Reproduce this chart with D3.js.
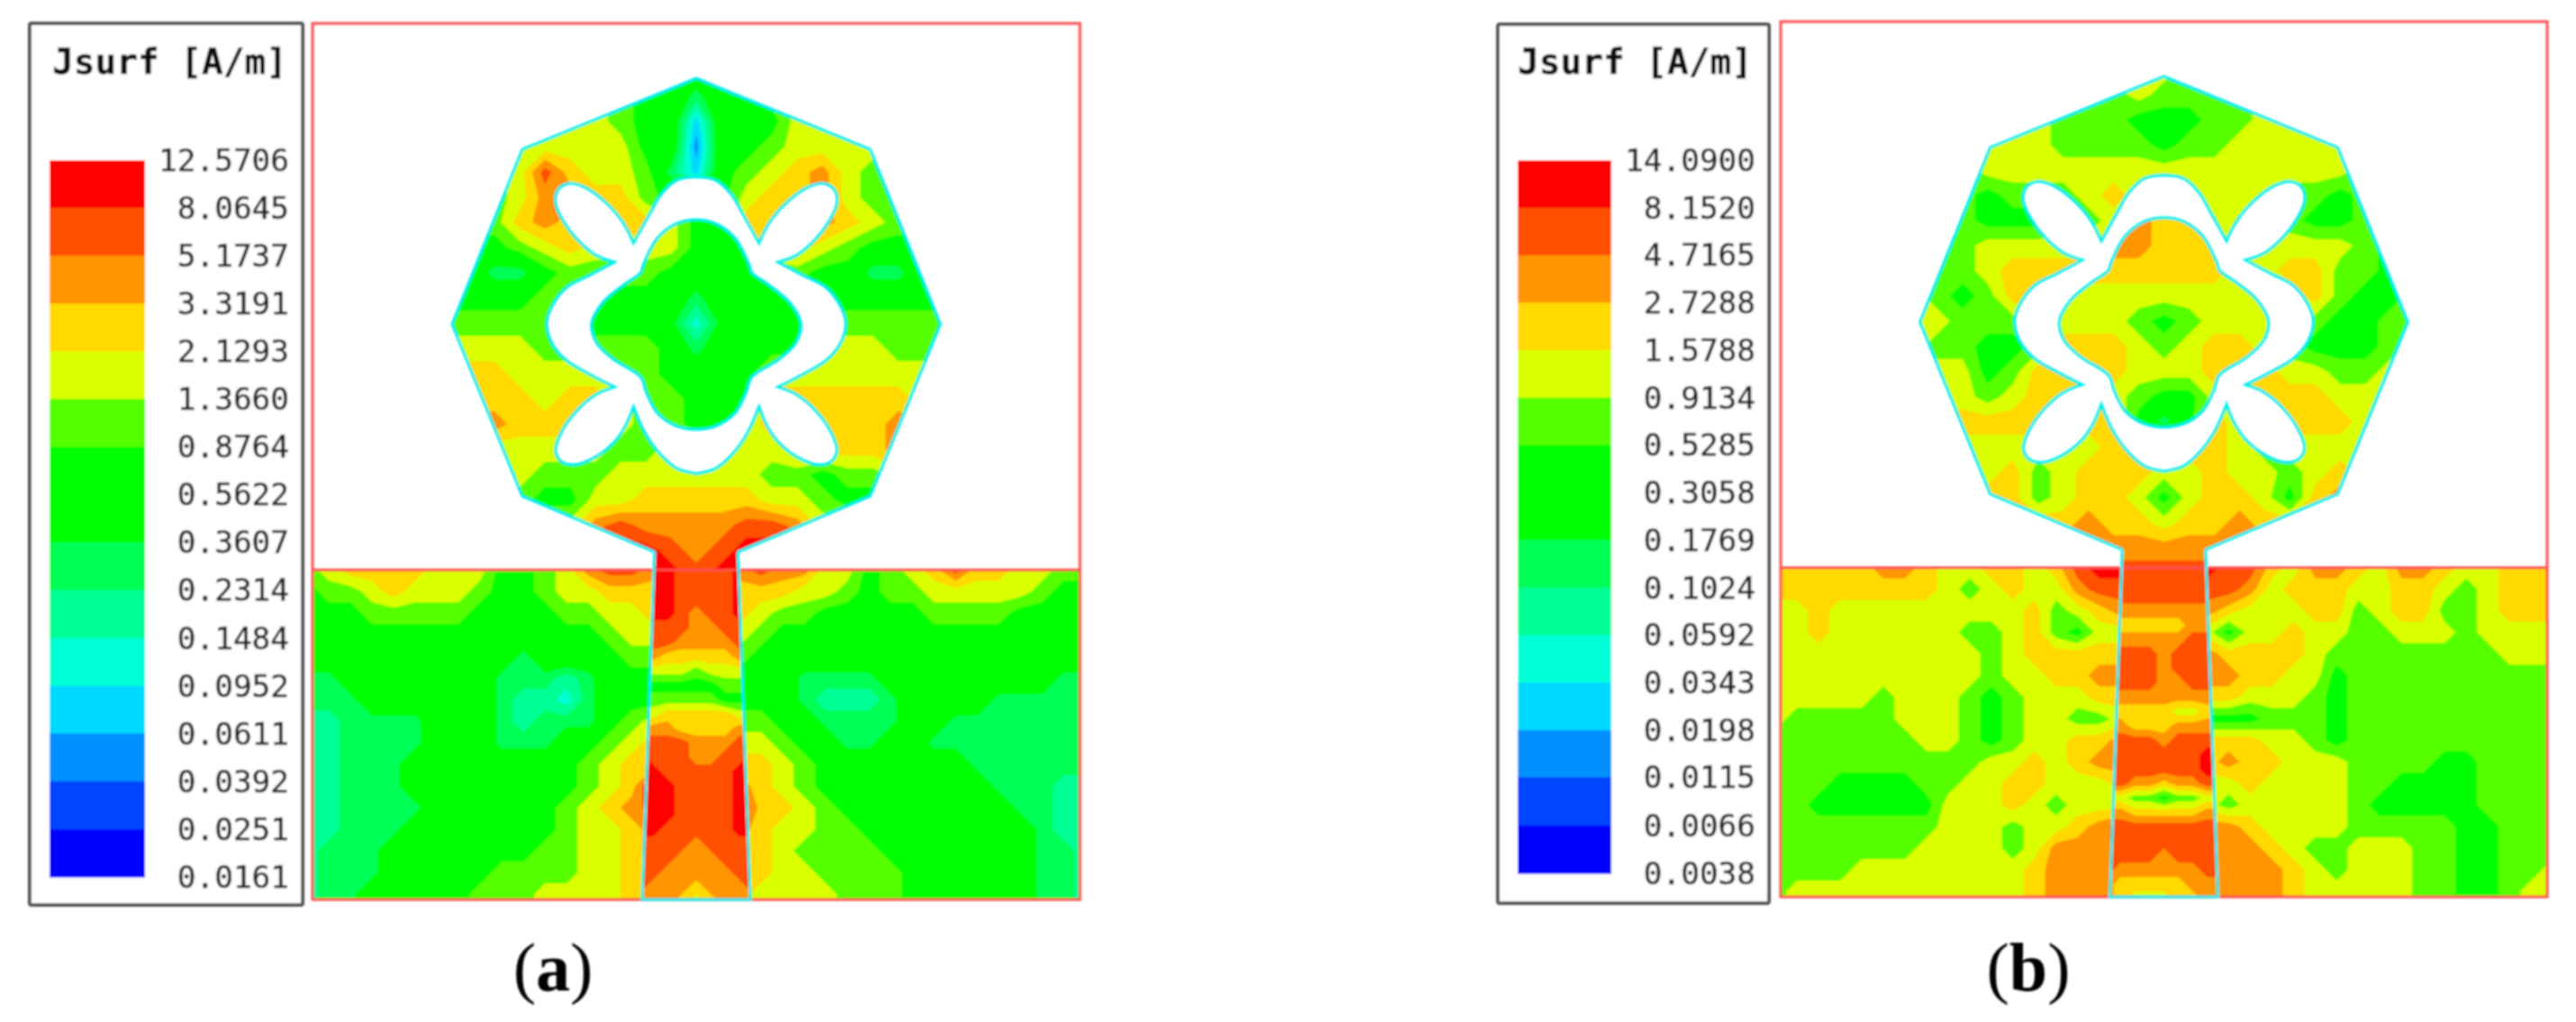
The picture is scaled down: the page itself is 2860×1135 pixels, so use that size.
<!DOCTYPE html>
<html><head><meta charset="utf-8">
<script src="https://cdnjs.cloudflare.com/ajax/libs/d3/7.8.5/d3.min.js"></script>
<style>html,body{margin:0;padding:0;background:#fff}svg{display:block}</style>
</head><body>
<svg id="chart" width="2860" height="1135"></svg>
<script>
// Colour bands, low to high (hex digit used in the field tables = band index)
const bandColors = ['#0000ff','#0045ff','#0090ff','#00d9ff','#00ffd5','#00ff95','#00ff55','#00ff00','#00ff00','#55ff00','#d9ff00','#ffd900','#ff9500','#ff5000','#ff0000'];
const legendTitle = 'Jsurf [A/m]';
const legendLabelsA = ['12.5706','8.0645','5.1737','3.3191','2.1293','1.3660','0.8764','0.5622','0.3607','0.2314','0.1484','0.0952','0.0611','0.0392','0.0251','0.0161'];
const legendLabelsB = ['14.0900','8.1520','4.7165','2.7288','1.5788','0.9134','0.5285','0.3058','0.1769','0.1024','0.0592','0.0343','0.0198','0.0115','0.0066','0.0038'];

// Surface current band: radiating patch
const patchRowsA = [
"aaaaaaa9888889aaaaaaa",
"aaaaaaa9886889aaaaaaa",
"aaaaaaa9883888aaaaaaa",
"aaaaaaaa882889aaaa999",
"999adbaa96389abca9999",
"999accbb9888abbca9999",
"999bcbbbba88bbbcba999",
"8889abaaaa888bba98888",
"886689999888889886688",
"888899888868888888888",
"999999888747888999999",
"aaaa99999868888aaa999",
"bbbaaaa998888aaaaaaaa",
"bbbbabba99888bbbbbbaa",
"cccbbbaa9988abbbbbccc",
"bbaaaaa99aaaaabbbbccc",
"aaaa999aaaaaa99899aaa",
"999988aabbbbbaa988888",
"aaaaaacdccccddcaaaaaa",
"eeeeeeeeedcdeeeeeeeee",
"eeeeeeeeeedeeeeeeeeee"];
const patchRowsB = [
"999999999aa999aaaaaaa",
"999999999a9999aaaaaaa",
"aaaaaa99988899aaaaaaa",
"aaaaaa9999899aaaaa999",
"999aaaaaaaaaaaaaaa999",
"8898999abaaaaaa998999",
"99988899acbbaaa988999",
"999aaaaaccbbbaaaaa988",
"999abbbbbbbbbaabb9988",
"a989bbbaaaaaaaaab9889",
"aa999aaaa989aaaa98899",
"a99889bbba9abba988899",
"aaa89bbbbaaabbbaa99aa",
"aaa9abbba988abbbbaaaa",
"bbbbbbbbb868baabbbaaa",
"aaaaaaaabbbbba9aaaaaa",
"aaaab9abbbaabaa9abaaa",
"bbbbb9abba8abba8bcccc",
"bbbbbbbcbbabbcbbbbbbb",
"ccccccccccccccccccccc",
"ddddddddddddddddddddd"];

// Ground plane
const groundRowsA = [
"9abbbbaaa889acddc"+"ccc"+"cdccaa89abdbbaa99",
"899abaaa9889aabbb"+"bbb"+"bbbaa9899aaaaa988",
"88899999888899aab"+"bbb"+"ba998888899998888",
"888888888888889aa"+"aaa"+"a9888888888888888",
"88888888886888899"+"999"+"98888888888888888",
"66888888866656888"+"888"+"88866668888888866",
"66688888865546888"+"888"+"88865556888866666",
"5566668886566689a"+"aaa"+"99886666886666666",
"556666888666889ab"+"aaa"+"aa988668866666666",
"55666888888889abb"+"bbb"+"bba98888888666666",
"55666888888889abe"+"ccc"+"cba98888888866655",
"5566668888889abcd"+"eee"+"ebba9888888886655",
"5566688888889aabc"+"ccc"+"cbaa9988888888655",
"5666888888899aabc"+"bbb"+"bba99998888888665",
"5666888889999aabc"+"bbb"+"bbaa9999888888665",
"56688888999aaaabc"+"bbb"+"baaaa999888888665",
"56688888999aaaabc"+"bbb"+"baaaa999888888665"];
const groundRowsB = [
"bbbbbccbaabbabdee"+"eee"+"eddbaccbaccbaabbb",
"bbbbbbbba9abaacdd"+"ddd"+"ddcabbbaabba9abbb",
"aabaaaaaaaaab9abc"+"ccc"+"cbaaabb9abb99abbb",
"aabaaaaaa99ab98aa"+"aaa"+"a8aabaa99aaa9aaaa",
"aaaaaaaaaa9abbbbb"+"ccc"+"cbbbba99999999aaa",
"aaaaaaaaaa9aabbcc"+"ccc"+"ccbbaa89999999999",
"aaaaa9aaa989aaabb"+"bbb"+"bbaaa989999999999",
"a99999aaa989aa99a"+"888"+"88899989999999999",
"9999999aa989aabbc"+"bbb"+"bbbaa989999999999",
"9999999999aababcc"+"bbb"+"bcbbaaa9999889999",
"999888899aabbaaab"+"aaa"+"aabaaaa9988889999",
"99888888aaaba9aaa"+"aaa"+"a9aaaaa9888889999",
"99999999aaa9aabcd"+"ccc"+"ccbaaaa9999988999",
"9999999aaaa9acccd"+"ccc"+"cccba99aaa9988999",
"9999aaaaaaaabcccd"+"ccc"+"ccccba9aaa998899a",
"9aaaaaaaaaaabcccd"+"ccc"+"ccccbaaaaa99889aa",
"9aaaaaaaaaaabcccd"+"ccc"+"ccccbaaaaa99889aa"];

// Feed line
const feedRowsA = [
"eeeddddee","eeeddddee","eeeddddee","eeedcddee","ddddccddd","dddccccdd","ccbbbbbcc","aaaa9aaaa",
"888888999","999999888","aabbbbbaa","cccbbbbcc","ddddcccdd","edddccdde","eedddddee","eeeddddee",
"eeeddddee","eeeddddee","eedddddee","ddddcdddd","dddcccddd","ddcccccdd","dcccbcccd","cccbabccc"];
const feedRowsB = [
"ddddddddd","ddddddddd","ddddddddd","ccccccccc","bbbbbbccc","ccccccddd","ddddcdddd","ddddcdddd",
"ddddccddd","ccccccccc","bbbbbaabb","ccbbbcccc","ddddcdddd","dddddddee","eddddddee","ddccbccdd",
"aa99899aa","ccbbbbbcc","ddddddddd","ddddddddd","ddddcdddd","dccccccdd","cbbbbbccc","cbaaabbcc"];

// Antenna geometry (model units)
const patchOutline = [[0,61],[193,140],[271,334],[193,525],[46,587],[47,607],[-47,607],[-46,587],[-193,525],[-271,334],[-193,140]];
const feedOutline = [[46,587],[47,607],[60,973],[-60,973],[-47,607],[-46,587]];
const slotCentre = [0,333], slotUnit = 2.8;
const slotArcs = [
 [[0,-455],[60,-445],[110,-400],[145,-340],[195,-250]],
 [[195,-250],[225,-310],[280,-375],[350,-425],[395,-435],[430,-415],[438,-375],[415,-320],[370,-260],[310,-210],[255,-190]],
 [[255,-190],[330,-150],[405,-110],[450,-50],[465,0],[450,60],[405,115],[330,160],[255,198]],
 [[255,198],[310,220],[370,270],[420,340],[438,395],[420,430],[380,440],[320,420],[255,370],[220,320],[195,260]],
 [[195,260],[160,340],[110,410],[60,452],[0,468]]];
const cloverHalf = [[0,-322],[60,-310],[120,-265],[165,-180],[172,-158],[225,-120],[290,-65],[325,0],[310,60],[260,110],[172,168],[155,215],[120,280],[60,320],[0,330]];

const svg = d3.select('#chart');
const defs = svg.append('defs');
defs.append('filter').attr('id','soft').attr('filterUnits','userSpaceOnUse')
  .attr('x',0).attr('y',0).attr('width',2860).attr('height',1135)
  .append('feGaussianBlur').attr('stdDeviation',0.9);
const root = svg.append('g').attr('filter','url(#soft)');
const thresholds = d3.range(15).map(i=>i-0.5);
const redLine = '#ff4f4f', cyanLine = '#00eeee';

function drawField(g, rows, sx, sy, x0, y0, step, clipId){
  const n = d3.max(rows,r=>r.length), m = rows.length;
  const values = [];
  rows.forEach(r=>{ for(let i=0;i<n;i++){ values.push(parseInt(r[Math.min(i,r.length-1)],16)); } });
  const cs = d3.contours().size([n,m]).thresholds(thresholds)(values);
  const proj = d3.geoTransform({point(px,py){ this.stream.point(sx(x0+(px-.5)*step), sy(y0+(py-.5)*step)); }});
  const path = d3.geoPath(proj);
  g.append('g').attr('clip-path',`url(#${clipId})`)
    .selectAll('path').data(cs).join('path')
    .attr('d',path).attr('fill',(d,i)=>bandColors[i]);
}

function drawPanel(p){
  const sx = d3.scaleLinear([-426,426],p.xRange), sy = d3.scaleLinear([0,973],p.yRange);
  const poly = d3.line().x(d=>sx(d[0])).y(d=>sy(d[1]));
  const toModel = d=>[slotCentre[0]+d[0]/slotUnit, slotCentre[1]+d[1]/slotUnit];
  const curve = d3.line().x(d=>sx(d[0])).y(d=>sy(d[1])).curve(d3.curveCatmullRom.alpha(.5));
  const mirror = a=>a.slice().reverse().map(d=>[-d[0],d[1]]);
  const arcs = slotArcs.concat(slotArcs.map(mirror).reverse());
  const slotPath = arcs.map((a,i)=>{const s=curve(a.map(toModel));return i?'L'+s.slice(1):s;}).join('')+'Z';
  const cloverPts = cloverHalf.concat(mirror(cloverHalf).slice(1,-1)).map(toModel);
  const cloverPath = d3.line().x(d=>sx(d[0])).y(d=>sy(d[1])).curve(d3.curveCatmullRomClosed.alpha(.5))(cloverPts);
  const patchPath = poly(patchOutline)+'Z';
  const g = root.append('g');

  defs.append('clipPath').attr('id',p.id+'patch').append('path').attr('clip-rule','evenodd').attr('d',patchPath+slotPath+cloverPath);
  defs.append('clipPath').attr('id',p.id+'ground').append('rect')
    .attr('x',sx(-426)).attr('y',sy(607)).attr('width',sx(426)-sx(-426)).attr('height',sy(973)-sy(607));
  defs.append('clipPath').attr('id',p.id+'feed').append('path').attr('d',poly(feedOutline)+'Z');

  drawField(g,p.ground,sx,sy,-432,607,24,p.id+'ground');
  drawField(g,p.feed,sx,sy,-64,607,16,p.id+'feed');
  drawField(g,p.patch,sx,sy,-280,53,28,p.id+'patch');

  g.append('rect').attr('x',sx(-426)).attr('y',sy(0)).attr('width',sx(426)-sx(-426)).attr('height',sy(973)-sy(0))
    .attr('fill','none').attr('stroke',redLine).attr('stroke-width',3);
  g.append('line').attr('x1',sx(-426)).attr('x2',sx(426)).attr('y1',sy(607)).attr('y2',sy(607))
    .attr('stroke',redLine).attr('stroke-width',3);
  // patch rim: from the left feed junction, round the top, to the right feed junction
  const rim = patchOutline.slice(7).concat(patchOutline.slice(0,5));
  g.append('path').attr('d',poly(rim)).attr('fill','none').attr('stroke',cyanLine).attr('stroke-width',3.2);
  g.append('path').attr('d',poly(feedOutline)).attr('fill','none').attr('stroke',cyanLine).attr('stroke-width',3.2);
  g.append('path').attr('d',slotPath+cloverPath).attr('fill','none').attr('stroke',cyanLine).attr('stroke-width',3.2);

  // Legend
  const vals = p.labels.map(Number);
  const ly = d3.scaleLog([vals[vals.length-1],vals[0]],[p.barY[1],p.barY[0]]);
  g.append('rect').attr('x',p.box[0]).attr('y',p.box[1]).attr('width',p.box[2]-p.box[0]).attr('height',p.box[3]-p.box[1])
    .attr('fill','#fff').attr('stroke','#555').attr('stroke-width',4).attr('rx',2);
  g.append('g').selectAll('rect').data(d3.pairs(vals)).join('rect')
    .attr('x',p.barX[0]).attr('width',p.barX[1]-p.barX[0])
    .attr('y',d=>ly(d[0])).attr('height',d=>ly(d[1])-ly(d[0])+.5)
    .attr('fill',(d,i)=>bandColors[14-i]);
  g.append('g').selectAll('text').data(p.labels).join('text')
    .attr('x',p.labelX).attr('y',d=>ly(+d)+12)
    .attr('text-anchor','end').attr('font-family','DejaVu Sans Mono').attr('font-size',34.4)
    .attr('fill','#222').attr('stroke','#222').attr('stroke-width',.5)
    .text(d=>d);
  g.append('text').attr('x',p.titleX).attr('y',82).attr('font-family','DejaVu Sans Mono').attr('font-weight','bold')
    .attr('font-size',39).attr('fill','#111').attr('stroke','#111').attr('stroke-width',.4)
    .attr('textLength',261).attr('lengthAdjust','spacingAndGlyphs').text(legendTitle);

  // Caption
  const cap = g.append('text').attr('x',p.capX).attr('y',1100).attr('text-anchor','middle')
    .attr('font-family','Liberation Serif').attr('font-size',76).attr('fill','#000');
  cap.append('tspan').text('(');
  cap.append('tspan').attr('font-weight','bold').text(p.capLetter);
  cap.append('tspan').text(')');
}

drawPanel({id:'a',xRange:[347,1199],yRange:[26,999],patch:patchRowsA,ground:groundRowsA,feed:feedRowsA,
  labels:legendLabelsA,box:[33,26,336,1005],barX:[55,161],barY:[178,974],labelX:321,titleX:58,capX:614,capLetter:'a'});
drawPanel({id:'b',xRange:[1977,2828],yRange:[24,996],patch:patchRowsB,ground:groundRowsB,feed:feedRowsB,
  labels:legendLabelsB,box:[1663,27,1964,1003],barX:[1685,1789],barY:[178,970],labelX:1949,titleX:1685,capX:2252,capLetter:'b'});
</script>
</body></html>
